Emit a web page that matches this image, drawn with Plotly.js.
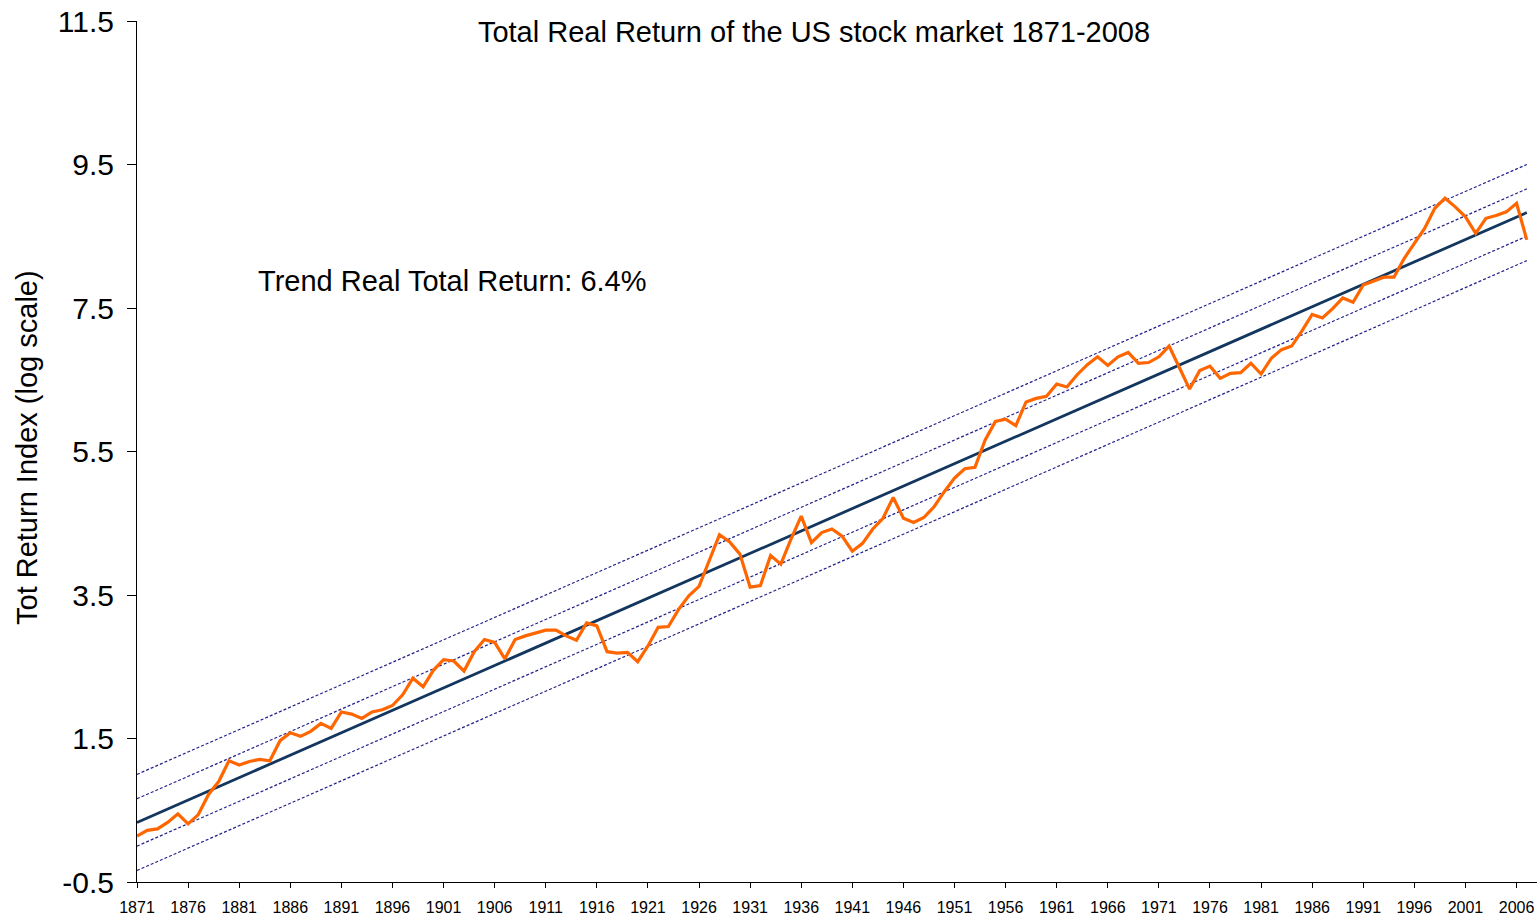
<!DOCTYPE html>
<html>
<head>
<meta charset="utf-8">
<script src="https://cdn.plot.ly/plotly-3.0.1.min.js"></script>
<style>
html,body{margin:0;padding:0;background:#fff;}
#chart{width:1539px;height:917px;}
</style>
</head>
<body>
<div id="chart"></div>
<script>
// ---- Data ----
const years = [
1871,1872,1873,1874,1875,1876,1877,1878,1879,1880,
1881,1882,1883,1884,1885,1886,1887,1888,1889,1890,
1891,1892,1893,1894,1895,1896,1897,1898,1899,1900,
1901,1902,1903,1904,1905,1906,1907,1908,1909,1910,
1911,1912,1913,1914,1915,1916,1917,1918,1919,1920,
1921,1922,1923,1924,1925,1926,1927,1928,1929,1930,
1931,1932,1933,1934,1935,1936,1937,1938,1939,1940,
1941,1942,1943,1944,1945,1946,1947,1948,1949,1950,
1951,1952,1953,1954,1955,1956,1957,1958,1959,1960,
1961,1962,1963,1964,1965,1966,1967,1968,1969,1970,
1971,1972,1973,1974,1975,1976,1977,1978,1979,1980,
1981,1982,1983,1984,1985,1986,1987,1988,1989,1990,
1991,1992,1993,1994,1995,1996,1997,1998,1999,2000,
2001,2002,2003,2004,2005,2006,2007
];

const totalReturnLog = [
0.14,0.22,0.24,0.33,0.45,0.31,0.44,0.72,0.90,1.19,
1.13,1.18,1.21,1.19,1.47,1.58,1.53,1.60,1.71,1.64,
1.87,1.84,1.78,1.87,1.90,1.96,2.11,2.34,2.22,2.45,
2.60,2.58,2.44,2.71,2.88,2.84,2.61,2.88,2.93,2.97,
3.01,3.01,2.93,2.87,3.11,3.07,2.71,2.69,2.70,2.57,
2.79,3.05,3.06,3.30,3.49,3.62,3.98,4.34,4.24,4.07,
3.61,3.63,4.05,3.93,4.28,4.60,4.23,4.37,4.42,4.32,
4.11,4.22,4.42,4.57,4.86,4.57,4.51,4.58,4.73,4.94,
5.13,5.26,5.28,5.66,5.92,5.95,5.86,6.19,6.24,6.27,
6.44,6.40,6.57,6.71,6.82,6.70,6.82,6.88,6.73,6.74,
6.82,6.97,6.67,6.37,6.63,6.69,6.52,6.59,6.60,6.73,
6.58,6.80,6.92,6.97,7.18,7.41,7.36,7.49,7.64,7.58,
7.82,7.87,7.93,7.93,8.19,8.40,8.61,8.89,9.03,8.91,
8.77,8.54,8.75,8.79,8.84,8.96,8.45
];

const trendYears = [1871, 2007];
const trendValues = [0.33, 8.83];
const upperOuterBand = [1.00, 9.50];
const upperInnerBand = [0.66, 9.16];
const lowerInnerBand = [0.00, 8.50];
const lowerOuterBand = [-0.34, 8.16];

const xTickVals = [1871,1876,1881,1886,1891,1896,1901,1906,1911,1916,1921,1926,1931,1936,1941,1946,1951,1956,1961,1966,1971,1976,1981,1986,1991,1996,2001,2006];
const yTickVals = [-0.5,1.5,3.5,5.5,7.5,9.5,11.5];
const yTickText = ['-0.5','1.5','3.5','5.5','7.5','9.5','11.5'];

const chartTitle = 'Total Real Return of the US stock market 1871-2008';
const yTitle = 'Tot Return Index (log scale)';
const noteText = 'Trend Real Total Return: 6.4%';

// ---- Traces ----
const FONT = '"Liberation Sans", Arial, Helvetica, sans-serif';
const bandStyle = {color:'#22228C', width:1.2, dash:'3px,2px'};

const traces = [
  {x: trendYears, y: upperOuterBand, mode:'lines', line: bandStyle, hoverinfo:'skip'},
  {x: trendYears, y: upperInnerBand, mode:'lines', line: bandStyle, hoverinfo:'skip'},
  {x: trendYears, y: lowerInnerBand, mode:'lines', line: bandStyle, hoverinfo:'skip'},
  {x: trendYears, y: lowerOuterBand, mode:'lines', line: bandStyle, hoverinfo:'skip'},
  {x: trendYears, y: trendValues, mode:'lines', line:{color:'#13365F', width:2.8}},
  {x: years, y: totalReturnLog, mode:'lines', line:{color:'#FF6600', width:3.2}}
];

const layout = {
  width:1539, height:917,
  paper_bgcolor:'#ffffff', plot_bgcolor:'#ffffff',
  margin:{l:137, r:2, t:21, b:35, pad:0},
  showlegend:false,
  font:{family:FONT, color:'#000'},
  title:{
    text: chartTitle,
    font:{family:FONT, size:29, color:'#000'},
    x: 814/1539, xref:'container', xanchor:'center',
    y: 1 - 32/917, yref:'container', yanchor:'middle'
  },
  xaxis:{
    range:[1871, 2008],
    tickmode:'array', tickvals:xTickVals,
    ticks:'outside', ticklen:5, tickwidth:1, tickcolor:'#000',
    showline:true, linecolor:'#000', linewidth:1,
    showgrid:false, zeroline:false,
    tickfont:{family:FONT, size:16, color:'#000'},
    ticklabelstandoff:6
  },
  yaxis:{
    range:[-0.5, 11.5],
    tickmode:'array', tickvals:yTickVals, ticktext:yTickText,
    ticks:'outside', ticklen:9, tickwidth:1, tickcolor:'#000',
    showline:true, linecolor:'#000', linewidth:1,
    showgrid:false, zeroline:false,
    tickfont:{family:FONT, size:30, color:'#000'},
    ticklabelstandoff:7
  },
  annotations:[
    {
      text: noteText, showarrow:false,
      xref:'paper', yref:'paper',
      x:(256-137)/1400, y:(882.3-281)/861.6,
      xanchor:'left', yanchor:'middle',
      font:{family:FONT, size:29, color:'#000'}
    },
    {
      text: yTitle, showarrow:false, textangle:-90,
      xref:'paper', yref:'paper',
      x:(27-137)/1400, y:(882.3-448)/861.6,
      xanchor:'center', yanchor:'middle',
      font:{family:FONT, size:29, color:'#000'}
    }
  ]
};

Plotly.newPlot('chart', traces, layout, {staticPlot:true, displayModeBar:false});
</script>
</body>
</html>
